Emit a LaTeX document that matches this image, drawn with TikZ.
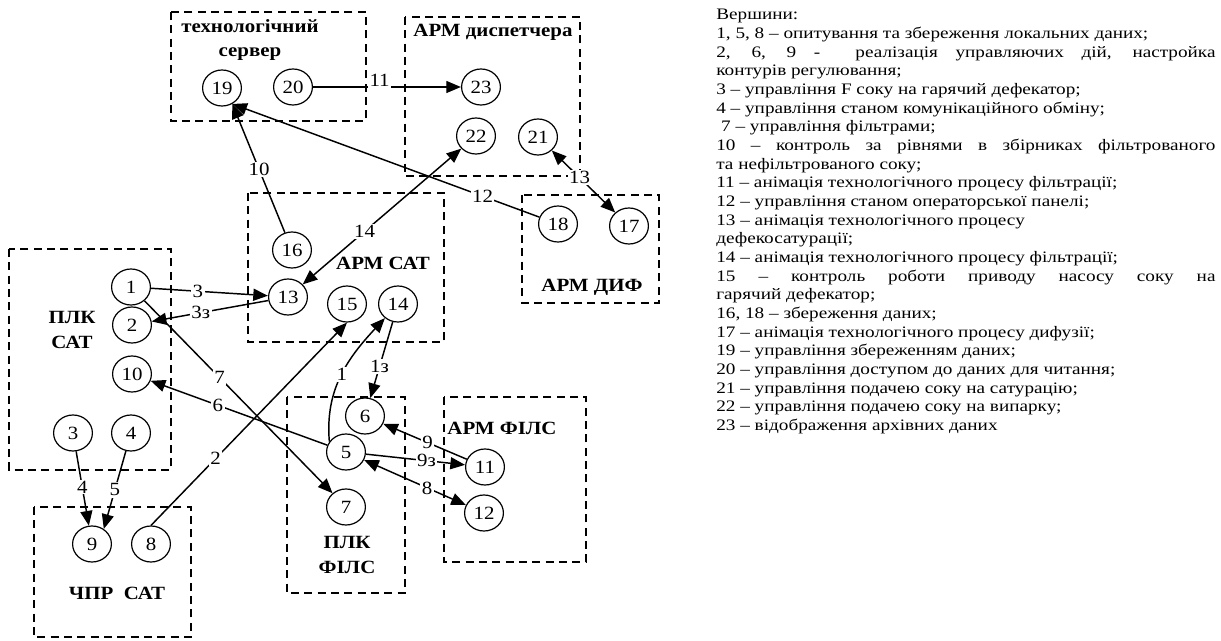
\documentclass[tikz,border=0pt]{standalone}
\usepackage{fontspec}
\setmainfont{Liberation Serif}
\usepackage{tikz}
\usetikzlibrary{arrows.meta,shapes.geometric}

\begin{document}
\begin{tikzpicture}[x=0.75pt, y=0.75pt,
  vert/.style={draw, ellipse, line width=0.9pt, inner sep=0pt, minimum width=26pt, minimum height=27pt, font=\fontsize{14}{14}\selectfont, xscale=1.12},
  grp/.style={draw, line width=1.1pt, dash pattern=on 6pt off 4pt},
  title/.style={font=\bfseries\fontsize{14}{18.5}\selectfont, align=center, inner sep=0pt, xscale=1.12},
  lbl/.style={fill=white, inner sep=1pt, font=\fontsize{14}{14}\selectfont, xscale=1.12},
  link/.style={line width=1.1pt},
  arr/.style={link, -{Triangle[length=11pt,width=9pt]}},
  twoway/.style={link, {Triangle[length=11pt,width=9pt]}-{Triangle[length=11pt,width=9pt]}},
  notes/.style={anchor=north west, text width=312pt, align=justify, inner sep=0pt, xscale=1.2, font=\fontsize{12}{14}\selectfont}]
  \useasboundingbox (0,0) rectangle (1221,-641);
  % groups
  \draw[grp] (171,-12) rectangle (366,-121);
  \draw[grp] (405,-17) rectangle (580,-176);
  \draw[grp] (248,-193) rectangle (444,-342);
  \draw[grp] (522,-195) rectangle (659,-303);
  \draw[grp] (9,-249) rectangle (171,-470);
  \draw[grp] (34,-507) rectangle (191,-637);
  \draw[grp] (287,-397) rectangle (405,-593);
  \draw[grp] (444,-397) rectangle (586,-562);
  \node[title] (tserver) at (250,-40) {технологічний\\сервер};
  \node[title] (tdisp) at (493,-32) {АРМ диспетчера};
  \node[title] (tarmsat) at (383,-263) {АРМ САТ};
  \node[title] (tdif) at (592,-287) {АРМ ДИФ};
  \node[title] (tplksat) at (72,-330) {ПЛК\\САТ};
  \node[title] (tchpr) at (117,-593) {ЧПР\ \ САТ};
  \node[title] (tplkfils) at (347,-555) {ПЛК\\ФІЛС};
  \node[title] (tarmfils) at (502,-428) {АРМ ФІЛС};
  % vertices
  \node[vert] (n1) at (131,-287) {1};
  \node[vert] (n2) at (132,-325) {2};
  \node[vert] (n10) at (132,-374) {10};
  \node[vert] (n3) at (73,-433) {3};
  \node[vert] (n4) at (131,-433) {4};
  \node[vert] (n9) at (92,-544) {9};
  \node[vert] (n8) at (151,-544) {8};
  \node[vert] (n16) at (292,-250) {16};
  \node[vert] (n13) at (288,-297) {13};
  \node[vert] (n15) at (347,-304) {15};
  \node[vert] (n14) at (398,-304) {14};
  \node[vert] (n6) at (365,-416) {6};
  \node[vert] (n5) at (346,-452) {5};
  \node[vert] (n7) at (346,-507) {7};
  \node[vert] (n11) at (485,-467) {11};
  \node[vert] (n12) at (484,-513) {12};
  \node[vert] (n19) at (222,-88) {19};
  \node[vert] (n20) at (293,-87) {20};
  \node[vert] (n23) at (481,-87) {23};
  \node[vert] (n22) at (476,-136) {22};
  \node[vert] (n21) at (538,-137) {21};
  \node[vert] (n18) at (558,-224) {18};
  \node[vert] (n17) at (629,-226) {17};
  % links
  \draw[arr] (n20) -- node[lbl, pos=0.45, yshift=5pt] {11} (n23);
  \draw[arr] (n16) -- node[lbl, pos=0.49] {10} (n19.300);
  \draw[arr] (n18) -- node[lbl, pos=0.185] {12} (n19.300);
  \draw[twoway] (n13) -- node[lbl, pos=0.39] {14} (n22);
  \draw[twoway] (n21) -- node[lbl, pos=0.44] {13} (n17);
  \draw[arr] (n1) -- node[lbl, pos=0.40] {3} (n13);
  \draw[arr] (n13) -- node[lbl, pos=0.58] {3з} (n2);
  \draw[arr] (n1) -- node[lbl, pos=0.40] {7} (n7);
  \draw[arr] (n5) -- node[lbl, pos=0.62] {6} (n10);
  \draw[arr] (n8.north) -- node[lbl, pos=0.33] {2} (n15.south);
  \draw[arr] (n3) -- node[lbl, pos=0.48] {4} (n9);
  \draw[arr] (n4) -- node[lbl, pos=0.5] {5} (n9.55);
  \draw[arr] (n5.145) to[out=95, in=228] node[lbl, pos=0.5] {1} (n14);
  \draw[arr] (n14) -- node[lbl, pos=0.59] {1з} (n6);
  \draw[arr] (n11) -- node[lbl, pos=0.47] {9} (n6);
  \draw[arr] (n5) -- node[lbl, pos=0.61] {9з} (n11);
  \draw[twoway] (n5) -- node[lbl, pos=0.62] {8} (n12);
  % legend
  \node[notes] (legend) at (716,-9) {\hyphenpenalty=10000
    Вершини:\par
    1, 5, 8 – опитування та збереження локальних даних;\par
    2, 6, 9 -\ \ реалізація управляючих дій, настройка\linebreak контурів регулювання;\par
    3 – управління F соку на гарячий дефекатор;\par
    4 – управління станом комунікаційного обміну;\par
    \hspace*{3pt}7 – управління фільтрами;\par
    10 – контроль за рівнями в збірниках фільтрованого\linebreak та нефільтрованого соку;\par
    11 – анімація технологічного процесу фільтрації;\par
    12 – управління станом операторської панелі;\par
    13 – анімація технологічного процесу\newline дефекосатурації;\par
    14 – анімація технологічного процесу фільтрації;\par
    15 – контроль роботи приводу насосу соку на\linebreak гарячий дефекатор;\par
    16, 18 – збереження даних;\par
    17 – анімація технологічного процесу дифузії;\par
    19 – управління збереженням даних;\par
    20 – управління доступом до даних для читання;\par
    21 – управління подачею соку на сатурацію;\par
    22 – управління подачею соку на випарку;\par
    23 – відображення архівних даних};
\end{tikzpicture}
\end{document}
